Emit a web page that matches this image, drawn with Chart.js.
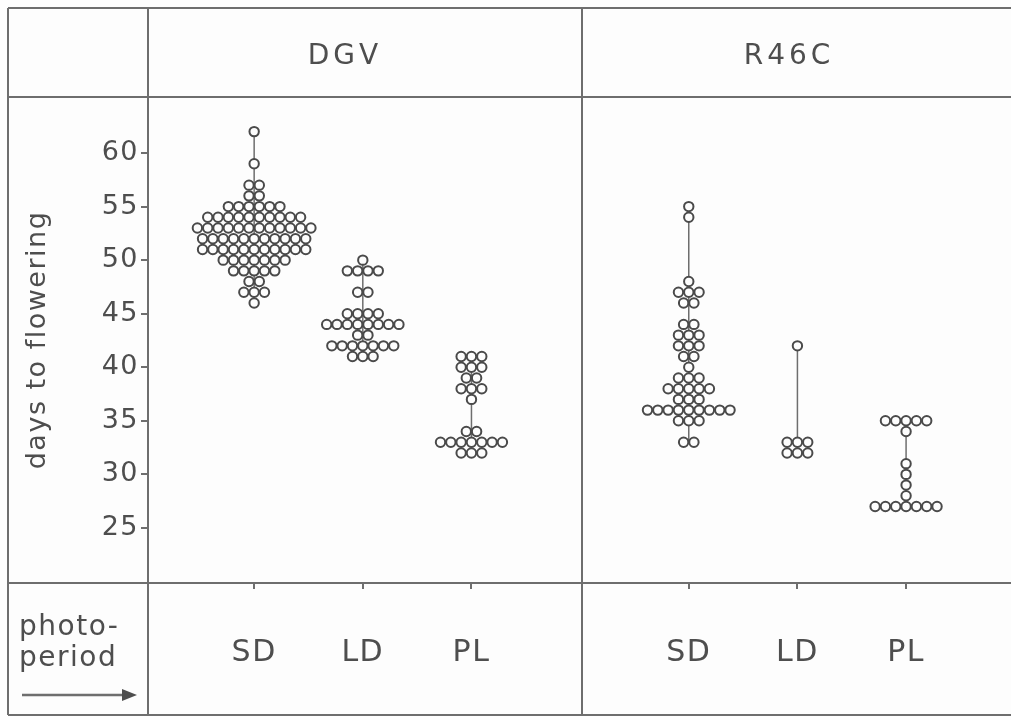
<!DOCTYPE html>
<html>
<head>
<meta charset="utf-8">
<script src="https://cdn.jsdelivr.net/npm/chart.js@4.4.1/dist/chart.umd.min.js"></script>
<style>
    html, body { margin: 0; padding: 0; background: #fdfdfd; }
    #wrap { position: relative; width: 1011px; height: 720px; }
</style>
</head>
<body>
<div id="wrap"><canvas id="flowerChart" width="1011" height="720"></canvas></div>
<script>
// genotypes and photoperiod groups
const genotypes = ['DGV', 'R46C'];
const photoperiods = ['SD', 'LD', 'PL', 'SD', 'LD', 'PL'];
const groupPos = [1, 2, 3, 5, 6, 7];
const yTicks = [25, 30, 35, 40, 45, 50, 55, 60];

// days to flowering / number of plants flowering on that day
const dgvSdDays = [62, 59, 57, 56, 55, 54, 53, 52, 51, 50, 49, 48, 47, 46];
const dgvSdCounts = [1, 1, 2, 2, 6, 10, 12, 11, 11, 7, 5, 2, 3, 1];
const dgvLdDays = [50, 49, 47, 45, 44, 43, 42, 41];
const dgvLdCounts = [1, 4, 2, 4, 8, 2, 7, 3];
const dgvPlDays = [41, 40, 39, 38, 37, 34, 33, 32];
const dgvPlCounts = [3, 3, 2, 3, 1, 2, 7, 3];
const r46SdDays = [55, 54, 48, 47, 46, 44, 43, 42, 41, 40, 39, 38, 37, 36, 35, 33];
const r46SdCounts = [1, 1, 1, 3, 2, 2, 3, 3, 2, 1, 3, 5, 3, 9, 3, 2];
const r46LdDays = [42, 33, 32];
const r46LdCounts = [1, 3, 3];
const r46PlDays = [35, 34, 31, 30, 29, 28, 27];
const r46PlCounts = [5, 1, 1, 1, 1, 1, 7];

const groupDays = [dgvSdDays, dgvLdDays, dgvPlDays, r46SdDays, r46LdDays, r46PlDays];
const groupCounts = [dgvSdCounts, dgvLdCounts, dgvPlCounts, r46SdCounts, r46LdCounts, r46PlCounts];

const ink = '#4e4e4e';
const lineInk = '#6e6e6e';
const fontFam = "'DejaVu Sans', sans-serif";
const dotStep = 0.095;   // horizontal spacing of dots, in x units

const datasets = [];
groupDays.forEach(function (days, g) {
    const counts = groupCounts[g];
    const pts = [];
    days.forEach(function (d, k) {
        const n = counts[k];
        for (let i = 0; i < n; i++) {
            pts.push({ x: groupPos[g] + (i - (n - 1) / 2) * dotStep, y: d });
        }
    });
    // range line behind the dots
    datasets.push({
        data: [{ x: groupPos[g], y: Math.max(...days) }, { x: groupPos[g], y: Math.min(...days) }],
        showLine: true,
        pointRadius: 0,
        borderColor: lineInk,
        borderWidth: 1.5,
        order: 2
    });
    datasets.push({
        data: pts,
        pointRadius: 4.7,
        pointBackgroundColor: '#fdfdfd',
        pointBorderColor: '#4a4a4a',
        pointBorderWidth: 2,
        order: 1
    });
});

// wider letter spacing for all text, like the stencil lettering
const spacingPlugin = {
    id: 'spacing',
    beforeDraw(chart) { chart.ctx.letterSpacing = '1.5px'; }
};

// table frame, headings and the photoperiod note
const framePlugin = {
    id: 'frame',
    afterDraw(chart) {
        const c = chart.ctx;
        c.save();
        c.strokeStyle = lineInk;
        c.lineWidth = 2;
        c.beginPath();
        c.moveTo(8, 8); c.lineTo(1011, 8);
        c.moveTo(8, 97); c.lineTo(1011, 97);
        c.moveTo(8, 583); c.lineTo(1011, 583);
        c.moveTo(8, 715); c.lineTo(1011, 715);
        c.moveTo(8, 8); c.lineTo(8, 715);
        c.moveTo(148, 8); c.lineTo(148, 715);
        c.moveTo(582, 8); c.lineTo(582, 715);
        c.stroke();

        c.fillStyle = ink;
        c.textBaseline = 'middle';
        c.textAlign = 'center';
        c.font = '28px ' + fontFam;
        c.letterSpacing = '4px';
        c.fillText(genotypes[0], 345, 57);
        c.fillText(genotypes[1], 789, 57);

        c.textAlign = 'left';
        c.font = '28px ' + fontFam;
        c.letterSpacing = '1.5px';
        c.fillText('photo-', 19, 628);
        c.fillText('period', 19, 659);

        // arrow
        c.beginPath();
        c.lineWidth = 2.5;
        c.moveTo(22, 695); c.lineTo(126, 695);
        c.stroke();
        c.beginPath();
        c.moveTo(137, 695); c.lineTo(122, 689); c.lineTo(122, 701); c.closePath();
        c.fill();
        c.restore();
    }
};

new Chart(document.getElementById('flowerChart').getContext('2d'), {
    type: 'scatter',
    data: { datasets: datasets },
    options: {
        responsive: false,
        animation: false,
        layout: { padding: { top: 97, left: 0, right: 0, bottom: 0 } },
        plugins: {
            legend: { display: false },
            tooltip: { enabled: false }
        },
        scales: {
            x: {
                type: 'linear',
                min: 0.023,
                max: 7.904,
                afterBuildTicks: function (scale) {
                    scale.ticks = groupPos.map(v => ({ value: v }));
                },
                afterFit: function (scale) { scale.height = 137; },
                ticks: {
                    autoSkip: false,
                    maxRotation: 0,
                    padding: 46,
                    color: ink,
                    font: { family: fontFam, size: 30 },
                    callback: function (value, index) { return photoperiods[index]; }
                },
                grid: { drawOnChartArea: false, tickLength: 6, color: lineInk, lineWidth: 2 },
                border: { color: lineInk, width: 2 }
            },
            y: {
                min: 19.86,
                max: 65.23,
                afterBuildTicks: function (scale) {
                    scale.ticks = yTicks.map(v => ({ value: v }));
                },
                afterFit: function (scale) { scale.width = 148; },
                ticks: {
                    padding: 2,
                    color: ink,
                    font: { family: fontFam, size: 27 }
                },
                grid: { drawOnChartArea: false, tickLength: 7, color: lineInk, lineWidth: 2 },
                border: { color: lineInk, width: 2 },
                title: {
                    display: true,
                    text: 'days to flowering',
                    color: ink,
                    font: { family: fontFam, size: 27 },
                    padding: { top: 22, bottom: 0 }
                }
            }
        }
    },
    plugins: [spacingPlugin, framePlugin]
});
</script>
</body>
</html>
